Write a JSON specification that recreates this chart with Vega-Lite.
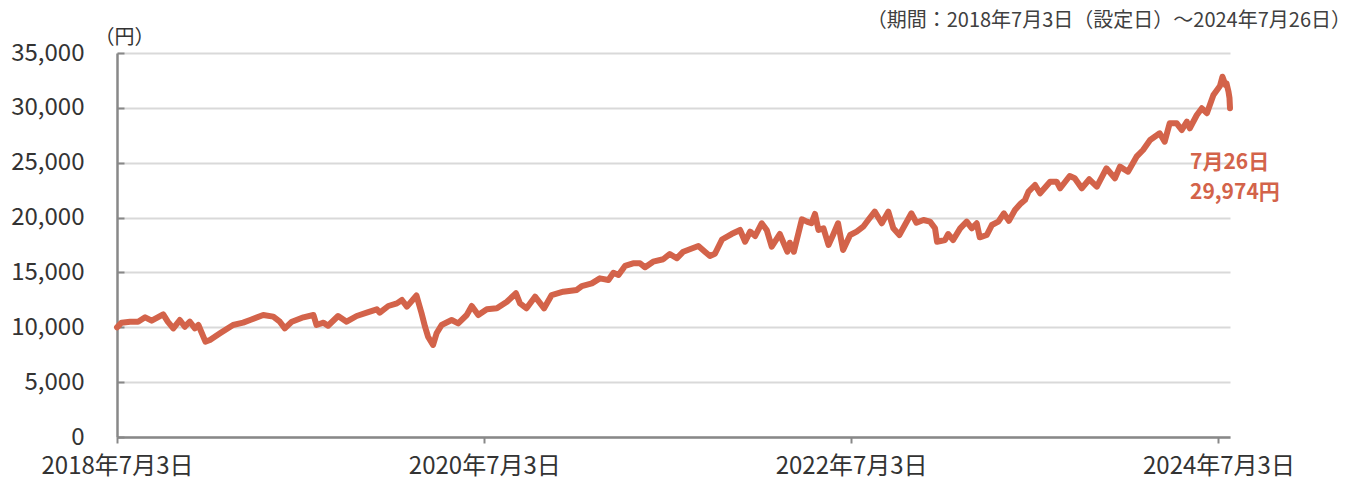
{
  "$schema": "https://vega.github.io/schema/vega-lite/v6.json",
  "width": 1113,
  "height": 384,
  "autosize": {"type": "none"},
  "padding": {"left": 117, "top": 53, "right": 122, "bottom": 45},
  "background": "white",
  "config": {
    "view": {"stroke": null},
    "font": "Noto Sans CJK JP",
    "title": {"font": "Noto Sans CJK JP"}
  },
  "title": {
    "text": "（期間：2018年7月3日（設定日）～2024年7月26日）",
    "anchor": "end",
    "frame": "group",
    "fontSize": 20,
    "fontWeight": "normal",
    "color": "#404040",
    "dx": 121,
    "dy": 22,
    "offset": 18
  },
  "datasets": {
    "nav": [
      {"d": "2018-07-03", "v": 10000}, {"d": "2018-07-12", "v": 10420}, {"d": "2018-07-29", "v": 10510},
      {"d": "2018-08-14", "v": 10510}, {"d": "2018-08-28", "v": 10910}, {"d": "2018-09-10", "v": 10600},
      {"d": "2018-10-03", "v": 11180}, {"d": "2018-10-12", "v": 10510}, {"d": "2018-10-23", "v": 9900},
      {"d": "2018-11-05", "v": 10660}, {"d": "2018-11-15", "v": 10050}, {"d": "2018-11-25", "v": 10510},
      {"d": "2018-12-05", "v": 9900}, {"d": "2018-12-12", "v": 10210}, {"d": "2018-12-26", "v": 8690},
      {"d": "2019-01-04", "v": 8840}, {"d": "2019-01-24", "v": 9450}, {"d": "2019-02-19", "v": 10210},
      {"d": "2019-03-11", "v": 10420}, {"d": "2019-03-25", "v": 10660}, {"d": "2019-04-20", "v": 11120},
      {"d": "2019-05-10", "v": 10970}, {"d": "2019-05-23", "v": 10510}, {"d": "2019-06-02", "v": 9900},
      {"d": "2019-06-16", "v": 10510}, {"d": "2019-07-09", "v": 10910}, {"d": "2019-07-29", "v": 11120},
      {"d": "2019-08-04", "v": 10210}, {"d": "2019-08-18", "v": 10420}, {"d": "2019-08-27", "v": 10140},
      {"d": "2019-09-16", "v": 11030}, {"d": "2019-10-03", "v": 10510}, {"d": "2019-10-23", "v": 11030},
      {"d": "2019-11-12", "v": 11330}, {"d": "2019-12-02", "v": 11640}, {"d": "2019-12-08", "v": 11330},
      {"d": "2019-12-25", "v": 11940}, {"d": "2020-01-11", "v": 12180}, {"d": "2020-01-21", "v": 12490},
      {"d": "2020-01-31", "v": 11880}, {"d": "2020-02-19", "v": 12900}, {"d": "2020-02-29", "v": 11300},
      {"d": "2020-03-07", "v": 10050}, {"d": "2020-03-13", "v": 9140}, {"d": "2020-03-23", "v": 8390},
      {"d": "2020-03-30", "v": 9450}, {"d": "2020-04-09", "v": 10210}, {"d": "2020-04-29", "v": 10660},
      {"d": "2020-05-12", "v": 10360}, {"d": "2020-05-29", "v": 11120}, {"d": "2020-06-08", "v": 11940},
      {"d": "2020-06-21", "v": 11120}, {"d": "2020-07-08", "v": 11640}, {"d": "2020-07-28", "v": 11730},
      {"d": "2020-08-17", "v": 12330}, {"d": "2020-09-04", "v": 13100}, {"d": "2020-09-12", "v": 12180},
      {"d": "2020-09-25", "v": 11730}, {"d": "2020-10-12", "v": 12790}, {"d": "2020-10-30", "v": 11730},
      {"d": "2020-11-14", "v": 12940}, {"d": "2020-12-07", "v": 13240}, {"d": "2021-01-03", "v": 13400},
      {"d": "2021-01-13", "v": 13760}, {"d": "2021-02-02", "v": 14000}, {"d": "2021-02-18", "v": 14460},
      {"d": "2021-03-07", "v": 14310}, {"d": "2021-03-17", "v": 14970}, {"d": "2021-03-27", "v": 14770},
      {"d": "2021-04-09", "v": 15590}, {"d": "2021-04-25", "v": 15830}, {"d": "2021-05-09", "v": 15830},
      {"d": "2021-05-19", "v": 15470}, {"d": "2021-06-04", "v": 15980}, {"d": "2021-06-24", "v": 16200},
      {"d": "2021-07-07", "v": 16680}, {"d": "2021-07-21", "v": 16290}, {"d": "2021-08-03", "v": 16890},
      {"d": "2021-08-16", "v": 17110}, {"d": "2021-09-02", "v": 17410}, {"d": "2021-09-15", "v": 16890},
      {"d": "2021-09-25", "v": 16500}, {"d": "2021-10-05", "v": 16700}, {"d": "2021-10-19", "v": 18000},
      {"d": "2021-11-07", "v": 18500}, {"d": "2021-11-24", "v": 18870}, {"d": "2021-12-04", "v": 17800},
      {"d": "2021-12-14", "v": 18720}, {"d": "2021-12-24", "v": 18320}, {"d": "2022-01-06", "v": 19480},
      {"d": "2022-01-16", "v": 18870}, {"d": "2022-01-26", "v": 17350}, {"d": "2022-02-11", "v": 18500},
      {"d": "2022-02-26", "v": 16890}, {"d": "2022-03-03", "v": 17710}, {"d": "2022-03-11", "v": 16890},
      {"d": "2022-03-27", "v": 19840}, {"d": "2022-04-06", "v": 19630}, {"d": "2022-04-15", "v": 19480},
      {"d": "2022-04-22", "v": 20330}, {"d": "2022-04-29", "v": 18870}, {"d": "2022-05-09", "v": 19020},
      {"d": "2022-05-19", "v": 17500}, {"d": "2022-05-28", "v": 18410}, {"d": "2022-06-07", "v": 19480},
      {"d": "2022-06-17", "v": 17050}, {"d": "2022-07-01", "v": 18410}, {"d": "2022-07-14", "v": 18720},
      {"d": "2022-07-27", "v": 19170}, {"d": "2022-08-06", "v": 19780}, {"d": "2022-08-19", "v": 20540},
      {"d": "2022-09-02", "v": 19480}, {"d": "2022-09-15", "v": 20540}, {"d": "2022-09-25", "v": 19020},
      {"d": "2022-10-07", "v": 18410}, {"d": "2022-10-18", "v": 19320}, {"d": "2022-10-31", "v": 20390},
      {"d": "2022-11-10", "v": 19530}, {"d": "2022-11-24", "v": 19780}, {"d": "2022-12-07", "v": 19630},
      {"d": "2022-12-17", "v": 19020}, {"d": "2022-12-21", "v": 17800}, {"d": "2023-01-06", "v": 17960},
      {"d": "2023-01-12", "v": 18500}, {"d": "2023-01-22", "v": 17960}, {"d": "2023-02-05", "v": 19020},
      {"d": "2023-02-18", "v": 19630}, {"d": "2023-02-28", "v": 19020}, {"d": "2023-03-10", "v": 19480},
      {"d": "2023-03-16", "v": 18200}, {"d": "2023-03-30", "v": 18410}, {"d": "2023-04-09", "v": 19320},
      {"d": "2023-04-22", "v": 19630}, {"d": "2023-05-03", "v": 20390}, {"d": "2023-05-13", "v": 19700},
      {"d": "2023-05-25", "v": 20690}, {"d": "2023-06-06", "v": 21300}, {"d": "2023-06-14", "v": 21600},
      {"d": "2023-06-21", "v": 22360}, {"d": "2023-07-04", "v": 22970}, {"d": "2023-07-14", "v": 22210},
      {"d": "2023-08-03", "v": 23270}, {"d": "2023-08-16", "v": 23270}, {"d": "2023-08-23", "v": 22670},
      {"d": "2023-09-11", "v": 23790}, {"d": "2023-09-21", "v": 23580}, {"d": "2023-10-05", "v": 22670},
      {"d": "2023-10-20", "v": 23490}, {"d": "2023-11-04", "v": 22820}, {"d": "2023-11-23", "v": 24490},
      {"d": "2023-12-10", "v": 23580}, {"d": "2023-12-20", "v": 24640}, {"d": "2024-01-05", "v": 24180},
      {"d": "2024-01-22", "v": 25550}, {"d": "2024-02-04", "v": 26160}, {"d": "2024-02-18", "v": 27070},
      {"d": "2024-03-08", "v": 27680}, {"d": "2024-03-18", "v": 26920}, {"d": "2024-03-28", "v": 28590},
      {"d": "2024-04-11", "v": 28590}, {"d": "2024-04-21", "v": 27980}, {"d": "2024-05-01", "v": 28740},
      {"d": "2024-05-07", "v": 28140}, {"d": "2024-05-21", "v": 29350}, {"d": "2024-05-31", "v": 29960},
      {"d": "2024-06-10", "v": 29510}, {"d": "2024-06-23", "v": 31170}, {"d": "2024-07-06", "v": 31990},
      {"d": "2024-07-11", "v": 32840}, {"d": "2024-07-17", "v": 32080}, {"d": "2024-07-19", "v": 32240},
      {"d": "2024-07-23", "v": 31480}, {"d": "2024-07-25", "v": 30900}, {"d": "2024-07-26", "v": 29974}
    ],
    "last": [{"d": "2024-07-26", "v": 29974}]
  },
  "layer": [
    {
      "data": {"name": "nav"},
      "mark": {"type": "line", "color": "#D3634A", "strokeWidth": 6, "strokeJoin": "round", "strokeCap": "round", "clip": false},
      "encoding": {
        "x": {
          "field": "d", "type": "temporal",
          "scale": {"type": "utc", "domain": [{"year": 2018, "month": 7, "date": 3, "utc": true}, {"year": 2024, "month": 7, "date": 26, "utc": true}]},
          "axis": {
            "title": null,
            "values": [
              {"year": 2018, "month": 7, "date": 3, "utc": true},
              {"year": 2020, "month": 7, "date": 3, "utc": true},
              {"year": 2022, "month": 7, "date": 3, "utc": true},
              {"year": 2024, "month": 7, "date": 3, "utc": true}
            ],
            "format": "%Y年%-m月%-d日",
            "labelFontSize": 24,
            "labelColor": "#333333",
            "labelFlush": false,
            "labelOverlap": false,
            "labelBound": false,
            "labelPadding": 11,
            "tickSize": 6,
            "tickColor": "#888888",
            "tickWidth": 2,
            "domainColor": "#888888",
            "domainWidth": 2.5,
            "grid": false
          }
        },
        "y": {
          "field": "v", "type": "quantitative",
          "scale": {"domain": [0, 35000], "nice": false},
          "axis": {
            "title": "（円）",
            "titleAngle": 0,
            "titleAlign": "center",
            "titleBaseline": "middle",
            "titleX": 7,
            "titleY": -16,
            "titleFontSize": 20,
            "titleFontWeight": "normal",
            "titleColor": "#333333",
            "values": [0, 5000, 10000, 15000, 20000, 25000, 30000, 35000],
            "format": ",d",
            "labelFontSize": 24,
            "labelColor": "#333333",
            "labelPadding": 40,
            "tickSize": -7,
            "tickColor": "#888888",
            "tickWidth": 2,
            "domainColor": "#888888",
            "domainWidth": 2.5,
            "grid": true,
            "gridColor": "#D9D9D9",
            "gridWidth": 2
          }
        }
      }
    },
    {
      "data": {"name": "last"},
      "mark": {
        "type": "text",
        "text": ["7月26日", "29,974円"],
        "align": "left",
        "baseline": "alphabetic",
        "dx": -40,
        "dy": 61,
        "lineHeight": 30,
        "fontSize": 21,
        "fontWeight": "bold",
        "color": "#D3634A"
      },
      "encoding": {
        "x": {"field": "d", "type": "temporal"},
        "y": {"field": "v", "type": "quantitative"}
      }
    }
  ]
}
